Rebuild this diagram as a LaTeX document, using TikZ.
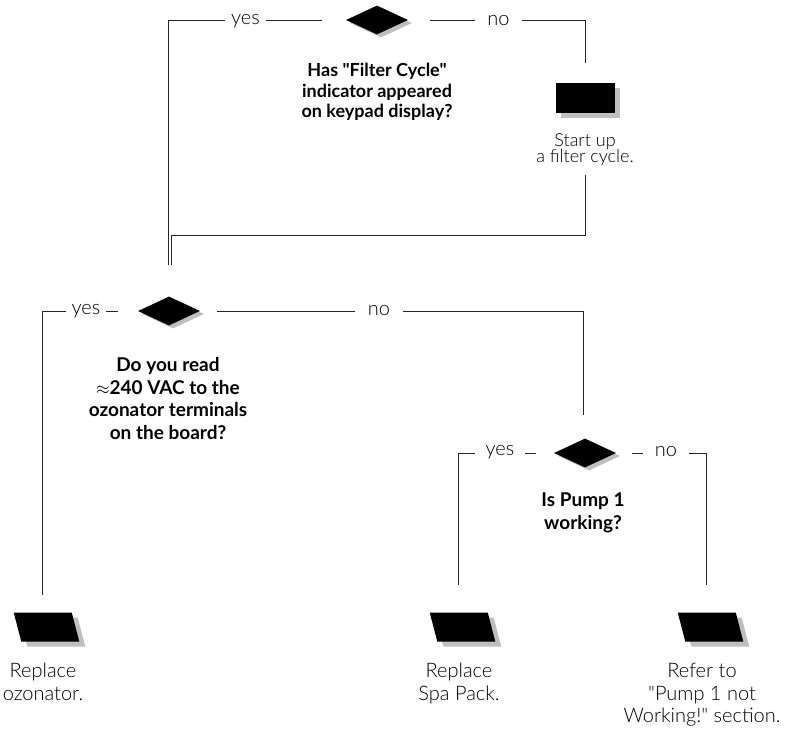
\documentclass[tikz,border=0pt]{standalone}
\usepackage{fontspec}
\setmainfont{Lato}[Ligatures=TeXOff]
\newfontfamily\lightf{Lato}[UprightFont=* Light]
\usetikzlibrary{shapes.geometric,shadows}
\begin{document}
\begin{tikzpicture}[x=1pt,y=-1pt,
  conn/.style={draw=black!85, line width=1pt},
  dec/.style={shape=diamond, fill=black, inner sep=0pt, minimum width=62pt, minimum height=29pt,
    general shadow={fill=black!25, shadow xshift=4pt, shadow yshift=-3pt}},
  actbox/.style={shape=rectangle, fill=black, inner sep=0pt, minimum width=59pt, minimum height=30pt,
    general shadow={fill=black!25, shadow xshift=5pt, shadow yshift=-5pt}},
  endbox/.style={shape=rectangle, transform shape, xslant=-0.26, fill=black, inner sep=0pt,
    minimum width=58pt, minimum height=29pt,
    general shadow={fill=black!25, shadow xshift=6pt, shadow yshift=-5pt}},
  lbl/.style={fill=white, inner ysep=1pt, text=black, font=\lightf\fontsize{20}{22}\selectfont},
  quest/.style={align=center, inner sep=0pt, anchor=north, font=\bfseries\fontsize{18}{20.5}\selectfont},
  quest2/.style={align=center, inner sep=0pt, anchor=north, font=\bfseries\fontsize{19}{22.7}\selectfont},
  actxt/.style={align=center, inner sep=0pt, anchor=north, text=black, font=\lightf\fontsize{18}{16.5}\selectfont},
  endtxt/.style={align=center, inner sep=0pt, anchor=north, text=black, font=\lightf\fontsize{20}{22.5}\selectfont}
]
\useasboundingbox (0,0) rectangle (786,731);

% decisions and boxes
\node[dec] (d1) at (377,20) {};
\node[actbox] (b1) at (585.5,98) {};
\node[dec] (d2) at (169,311) {};
\node[dec] (d3) at (585,453) {};
\begin{scope}[shift={(46.5,627)}]
  \node[endbox] (p1) at (0,0) {};
\end{scope}
\begin{scope}[shift={(462.5,627)}]
  \node[endbox] (p2) at (0,0) {};
\end{scope}
\begin{scope}[shift={(710.5,627)}]
  \node[endbox] (p3) at (0,0) {};
\end{scope}

% junction points
\coordinate (j1) at (168,265);
\coordinate (j2) at (171,265);
\coordinate (k2) at (171,235);

% connectors
\draw[conn] ([xshift=-24pt]d1.west) -| (j1);
\draw[conn] ([xshift=22pt]d1.east) -| ([yshift=20pt]b1.north);
\draw[conn] ([yshift=-62pt]b1.south) |- (k2) -- (j2);
\draw[conn] ([xshift=-20pt]d2.west) -| ([yshift=17pt]p1.north);
\draw[conn] ([xshift=17pt]d2.east) -| ([shift={(-2,-23)}]d3.north);
\draw[conn] ([xshift=-18pt]d3.west) -| ([yshift=27pt]p2.north);
\draw[conn] ([xshift=16pt]d3.east) -| ([yshift=27pt]p3.north);

% branch labels
\node[lbl, inner xsep=6.5pt] (y1) at (245.5,21) {yes};
\node[lbl, inner xsep=12.5pt] (n1) at (498.5,21) {no};
\node[lbl, inner xsep=6pt] (y2) at (86,311) {yes};
\node[lbl, inner xsep=12.5pt] (n2) at (379,311) {no};
\node[lbl, inner xsep=11pt] (y3) at (500,452) {yes};
\node[lbl, inner xsep=12pt] (n3) at (666,452) {no};

% texts
\node[quest] (q1) at (377,63) {Has "Filter Cycle"\\indicator appeared\\on keypad display?};
\node[quest2] (q2) at (168,357) {Do you read\\$\approx$240 VAC to the\\ozonator terminals\\on the board?};
\node[quest2] (q3) at (583,493) {Is Pump 1\\working?};
\node[actxt] (t1) at (585,133) {Start up\\a filter cycle.};
\node[endtxt] (t2) at (43,663) {Replace\\ozonator.};
\node[endtxt] (t3) at (459,663) {Replace\\Spa Pack.};
\node[endtxt] (t4) at (702,663) {Refer to\\"Pump 1 not\\Working!" section.};
\end{tikzpicture}
\end{document}
